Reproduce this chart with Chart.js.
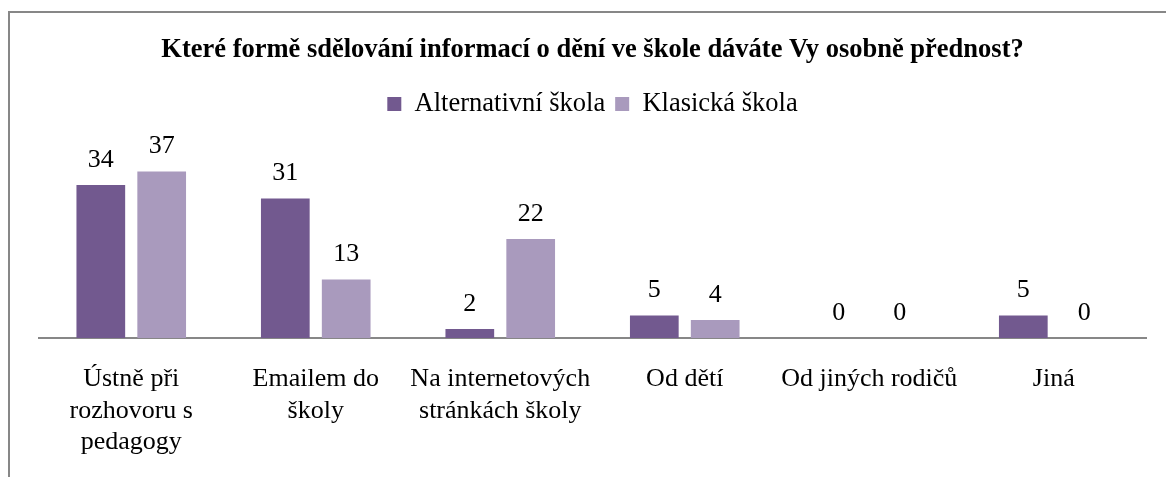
<!DOCTYPE html>
<html>
<head>
<meta charset="utf-8">
<script src="https://cdn.jsdelivr.net/npm/chart.js@4/dist/chart.umd.min.js"></script>
<style>
    body { margin: 0; background: #fff; overflow: hidden; }
    #frame { position: absolute; left: 8px; top: 11px; width: 1300px; height: 600px; border: 2px solid #878787; }
    #chart { position: absolute; left: 0; top: 0; }
</style>
</head>
<body>
<div id="frame"></div>
<canvas id="chart" width="1166" height="477"></canvas>
<script>
var categories = [
    ["Ústně při", "rozhovoru s", "pedagogy"],
    ["Emailem do", "školy"],
    ["Na internetových", "stránkách školy"],
    "Od dětí",
    "Od jiných rodičů",
    "Jiná"
];
var alternativni = [34, 31, 2, 5, 0, 5];
var klasicka = [37, 13, 22, 4, 0, 0];
var seriesNames = ["Alternativní škola", "Klasická škola"];
var titleText = "Které formě sdělování informací o dění ve škole dáváte Vy osobně přednost?";

var serif = "'Liberation Serif', 'Times New Roman', serif";

// draws the value above every bar
var valueLabels = {
    id: 'valueLabels',
    afterDatasetsDraw: function (chart) {
        var ctx = chart.ctx;
        ctx.save();
        ctx.font = "26px " + serif;
        ctx.fillStyle = "#000";
        ctx.textAlign = "center";
        ctx.textBaseline = "alphabetic";
        chart.data.datasets.forEach(function (ds, i) {
            chart.getDatasetMeta(i).data.forEach(function (bar, j) {
                ctx.fillText(ds.data[j], bar.x, bar.y - 18);
            });
        });
        ctx.restore();
    }
};

var ctx = document.getElementById("chart").getContext('2d');
var chart = new Chart(ctx, {
    type: 'bar',
    data: {
        labels: categories,
        datasets: [{
            label: seriesNames[0],
            data: alternativni,
            backgroundColor: '#72598f',
            categoryPercentage: 0.66,
            barPercentage: 0.8
        }, {
            label: seriesNames[1],
            data: klasicka,
            backgroundColor: '#a99abd',
            categoryPercentage: 0.66,
            barPercentage: 0.8
        }]
    },
    options: {
        responsive: false,
        animation: false,
        layout: { padding: { left: 39, right: 20, top: 12, bottom: 0 } },
        plugins: {
            title: {
                display: true,
                text: titleText,
                color: '#000',
                font: { family: serif, size: 26.5, weight: 'bold', lineHeight: 1.2 },
                padding: { top: 22, bottom: 15 }
            },
            legend: {
                display: true,
                labels: {
                    color: '#000',
                    font: { family: serif, size: 26.5 },
                    boxWidth: 14,
                    boxHeight: 14,
                    padding: 10
                }
            },
            tooltip: { enabled: false }
        },
        scales: {
            x: {
                grid: { display: false, drawTicks: false },
                border: { display: true, color: '#878787', width: 2 },
                ticks: {
                    color: '#000',
                    font: { family: serif, size: 26, lineHeight: 1.2 },
                    padding: 26,
                    maxRotation: 0,
                    autoSkip: false
                },
                afterFit: function (scale) { scale.height = 139; }
            },
            y: {
                display: false,
                min: 0,
                max: 46.8
            }
        }
    },
    plugins: [valueLabels]
});
</script>
</body>
</html>
